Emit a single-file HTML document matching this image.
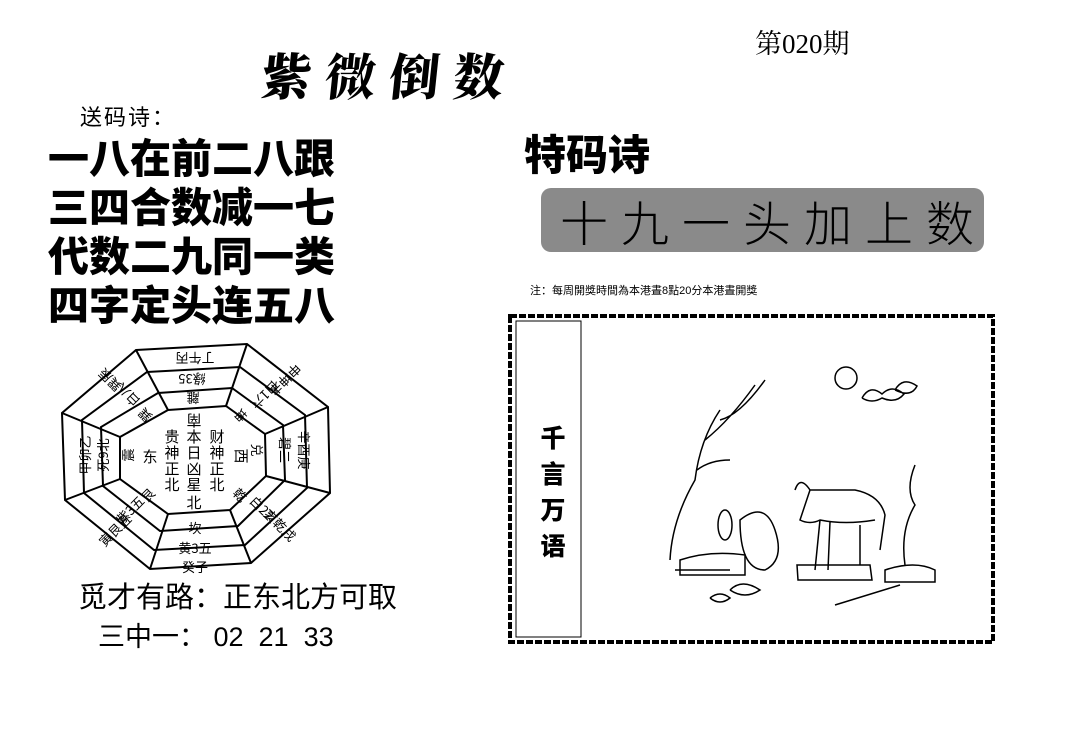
<!DOCTYPE html>
<html><head><meta charset="utf-8"><style>
html,body{margin:0;padding:0;background:#fff;}
body{width:1080px;height:734px;position:relative;overflow:hidden;font-family:"Liberation Sans","Noto Sans CJK SC",sans-serif;color:#000;}
.a{position:absolute;white-space:nowrap;}
</style></head><body>
<div class="a" style="left:755px;top:22px;font-family:'Liberation Serif','Noto Serif CJK SC',serif;font-size:27px;">第020期</div>
<div class="a" style="left:262px;top:38px;font-size:50px;font-weight:900;letter-spacing:14px;font-family:'Noto Serif CJK SC',serif;transform:skewX(-6deg);">紫微倒数</div>
<div class="a" style="left:80px;top:100px;font-size:22px;letter-spacing:2px;">送码诗：</div>
<div class="a" style="left:48px;top:131px;font-size:41px;font-weight:900;line-height:49px;font-family:'Noto Sans CJK SC',sans-serif;">一八在前二八跟<br>三四合数减一七<br>代数二九同一类<br>四字定头连五八</div>
<div class="a" style="left:524px;top:122px;font-size:42px;font-weight:900;">特码诗</div>
<div class="a" style="left:541px;top:188px;width:443px;height:64px;background:#8a8a8a;border-radius:10px;"></div>
<div class="a" style="left:560px;top:190px;font-size:48px;letter-spacing:13px;line-height:60px;font-family:'Noto Sans CJK SC',sans-serif;font-weight:300;">十九一头加上数</div>
<div class="a" style="left:530px;top:282px;font-size:11px;">注：每周開獎時間為本港晝8點20分本港晝開獎</div>
<svg class="a" style="left:0;top:0" width="1080" height="734">
<g fill="none" stroke="#000" stroke-width="2">
<polygon points="136,350 247,344 328,407 330,493 251,563 150,569 65,500 62,413"/>
<polygon points="147,372 240,367 305,415 307,488 245,545 154,550 84,493 82,420"/>
<polygon points="158,393 232,388 283,425 285,480 238,526 160,531 103,486 101,427"/>
<polygon points="168,410 226,406 265,434 266,476 230,510 168,514 120,479 120,437"/>
<line x1="136" y1="350" x2="168" y2="410"/><line x1="247" y1="344" x2="226" y2="406"/>
<line x1="328" y1="407" x2="265" y2="434"/><line x1="330" y1="493" x2="266" y2="476"/>
<line x1="251" y1="563" x2="230" y2="510"/><line x1="150" y1="569" x2="168" y2="514"/>
<line x1="65" y1="500" x2="120" y2="479"/><line x1="62" y1="413" x2="120" y2="437"/>
</g>
<g font-size="13" font-family="Noto Sans CJK SC,sans-serif" text-anchor="middle">
<text x="195" y="363" transform="rotate(180 195 358)">丁午丙</text>
<text x="192" y="384" transform="rotate(180 192 379)">綠35</text>
<text x="193" y="403" transform="rotate(180 193 398)">離</text>
<text x="195" y="553">黄3五</text><text x="195" y="533">坎</text><text x="195" y="572">癸子</text>
<text x="304" y="455" transform="rotate(90 304 450)">辛酉庚</text>
<text x="285" y="455" transform="rotate(90 285 450)">碧二</text>
<text x="257" y="455" transform="rotate(90 257 450)">兑</text>
<text x="85" y="460" transform="rotate(-90 85 455)">甲卯乙</text>
<text x="103" y="460" transform="rotate(-90 103 455)">死9北</text>
<text x="128" y="460" transform="rotate(-90 128 455)">震</text>
<text x="285" y="385" transform="rotate(135 285 380)">申坤未</text>
<text x="265" y="400" transform="rotate(135 265 395)">白1六</text>
<text x="240" y="420" transform="rotate(135 240 415)">坤</text>
<text x="110" y="385" transform="rotate(-135 110 380)">巽辰</text>
<text x="128" y="400" transform="rotate(-135 128 395)">白八</text>
<text x="145" y="420" transform="rotate(-135 145 415)">巽</text>
<text x="280" y="530" transform="rotate(45 280 525)">亥乾戌</text>
<text x="262" y="513" transform="rotate(45 262 508)">白22</text>
<text x="240" y="500" transform="rotate(45 240 495)">乾</text>
<text x="115" y="535" transform="rotate(-45 115 530)">寅艮丑</text>
<text x="130" y="515" transform="rotate(-45 130 510)">紫3五</text>
<text x="148" y="500" transform="rotate(-45 148 495)">艮</text>
</g>
<g font-size="15" font-family="Noto Sans CJK SC,sans-serif" text-anchor="middle">
<text x="194" y="425" transform="rotate(180 194 420)">南</text>
<text x="194" y="442">本</text><text x="194" y="458">日</text><text x="194" y="474">凶</text><text x="194" y="490">星</text><text x="194" y="508">北</text>
<text x="172" y="442">贵</text><text x="172" y="458">神</text><text x="172" y="474">正</text><text x="172" y="490">北</text>
<text x="217" y="442">财</text><text x="217" y="458">神</text><text x="217" y="474">正</text><text x="217" y="490">北</text>
<text x="150" y="462">东</text><text x="242" y="462" transform="rotate(90 242 456)">西</text>
</g>
<rect x="510" y="316" width="483" height="326" fill="none" stroke="#000" stroke-width="4" stroke-dasharray="7 2"/>
<rect x="516" y="321" width="65" height="316" fill="none" stroke="#000" stroke-width="1"/>
<g fill="none" stroke="#000" stroke-width="1.5">
<path d="M670 560 Q672 520 695 480 Q700 440 720 410 M697 470 Q710 460 730 460 M705 440 Q730 420 755 385 M720 420 Q740 415 765 380"/>
<path d="M675 570 L730 570 M680 560 Q710 550 745 555 L745 575 L680 575 Z"/>
<path d="M740 520 Q765 500 775 530 Q785 560 765 570 Q740 570 740 520 Z"/>
<ellipse cx="725" cy="525" rx="7" ry="15"/>
<circle cx="846" cy="378" r="11"/>
<path d="M862 398 q8 -14 20 -4 q10 -10 22 0 q-8 10 -22 4 q-10 6 -20 0 M895 390 q8 -14 22 -4 q-6 12 -22 4"/>
<path d="M795 490 Q800 475 810 490 L855 490 Q880 495 885 515 L880 550 M860 525 L860 565 M820 520 L815 570 M830 522 L828 570 M810 490 L800 520 Q810 525 820 520 Q845 525 875 520"/>
<path d="M797 565 L870 565 L872 580 L798 580 Z"/>
<path d="M905 565 Q900 530 915 505 Q905 490 915 465"/>
<path d="M885 570 q30 -10 50 0 l0 12 l-50 0z"/>
<path d="M835 605 L900 585 M710 598 q10 -8 20 0 q-10 8 -20 0 M730 590 q12 -12 30 0 q-15 10 -30 0"/>
</g>
</svg>
<div class="a" style="left:536px;top:425px;font-size:25px;font-weight:900;line-height:30px;writing-mode:vertical-rl;letter-spacing:11px;">千言万语</div>
<div class="a" style="left:78px;top:574px;font-size:29px;">觅才有路：正东北方可取</div>
<div class="a" style="left:98px;top:615px;font-size:27px;">三中一：&nbsp;02&nbsp;&nbsp;21&nbsp;&nbsp;33</div>
</body></html>
